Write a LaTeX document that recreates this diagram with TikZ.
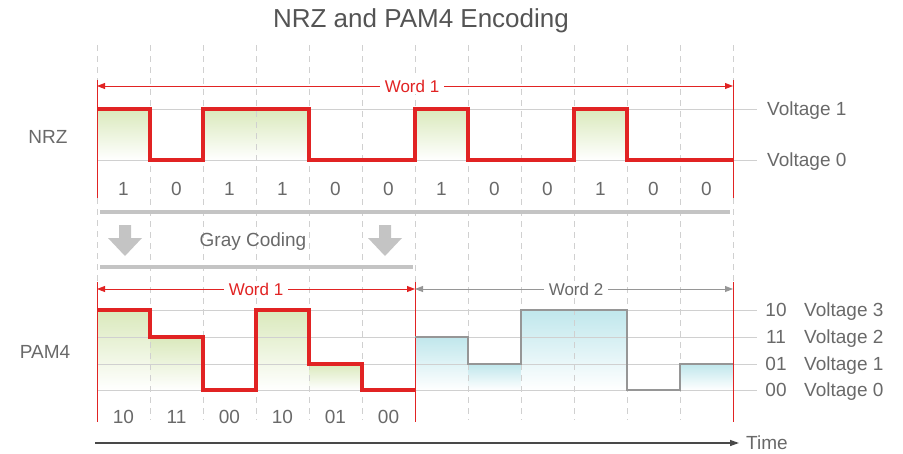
\documentclass[tikz,border=0pt]{standalone}
\usepackage{fontspec}
\setmainfont{Liberation Sans}
\usetikzlibrary{arrows.meta}

\definecolor{sigred}{RGB}{225,35,35}
\definecolor{labgray}{RGB}{105,105,105}
\definecolor{linegray}{RGB}{208,208,208}
\definecolor{bargray}{RGB}{196,196,196}
\definecolor{wavegray}{RGB}{150,150,150}
\definecolor{greenfill}{RGB}{218,233,188}
\definecolor{cyanfill}{RGB}{192,231,236}

\begin{document}
\begin{tikzpicture}[x=1pt,y=-1pt,
  gridline/.style={linegray, dash pattern=on 6pt off 5pt, line width=0.9pt},
  levelline/.style={linegray, line width=0.9pt},
  bound/.style={draw=sigred, line width=1pt},
  redwave/.style={sigred, line width=3.2pt, line join=miter},
  graywave/.style={wavegray, line width=2.8pt, line join=miter},
  greenshade/.style={top color=greenfill, bottom color=white, draw=none},
  cyanshade/.style={top color=cyanfill, bottom color=white, draw=none},
  wordred/.style={sigred, line width=0.9pt, {Triangle[length=8pt,width=6pt]}-{Triangle[length=8pt,width=6pt]}},
  wordgray/.style={wavegray, line width=0.9pt, {Triangle[length=8pt,width=6pt]}-{Triangle[length=8pt,width=6pt]}},
  txt/.style={text=labgray, inner sep=0pt, text height=13.6pt, text depth=0pt, font=\fontsize{19}{22}\selectfont},
  wordlabel/.style={fill=white, inner xsep=5pt, inner ysep=2pt, text height=12.2pt, text depth=0pt, font=\fontsize{17}{20}\selectfont},
  bar/.style={bargray, line width=3.5pt},
  downarrow/.style={fill=bargray, draw=none}
]
\useasboundingbox (0,0) rectangle (903,453);

% Title
\node[txt, text=labgray!80!black, text height=18.6pt, font=\fontsize{26}{30}\selectfont] (title) at (421,18) {NRZ and PAM4 Encoding};

% Shaded areas under the high levels
\fill[greenshade] (97,109) rectangle (150,160);
\fill[greenshade] (203,109) rectangle (309,160);
\fill[greenshade] (415,109) rectangle (468,160);
\fill[greenshade] (574,109) rectangle (627,160);
\fill[greenshade] (97,310) rectangle (150,390);
\fill[greenshade] (150,337) rectangle (203,390);
\fill[greenshade] (256,310) rectangle (309,390);
\fill[greenshade] (309,364) rectangle (362,390);
\fill[cyanshade] (415,337) rectangle (468,390);
\fill[cyanshade] (468,364) rectangle (521,390);
\fill[cyanshade] (521,310) rectangle (627,390);
\fill[cyanshade] (680,364) rectangle (733,390);

% Dashed bit grid
\foreach \i in {1,...,11}
  \draw[gridline] (97+53*\i,45) -- (97+53*\i,420);
\draw[gridline] (97,45) -- (97,80);
\draw[gridline] (733,45) -- (733,80);
\draw[gridline] (97,198) -- (97,282);
\draw[gridline] (733,198) -- (733,282);

% Level lines
\draw[levelline] (97,109) -- (757,109);
\draw[levelline] (97,160) -- (757,160);
\foreach \y in {310,337,364,390}
  \draw[levelline] (97,\y) -- (757,\y);

% Word boundaries
\draw[bound] (97,80) -- (97,198);
\draw[bound] (733,80) -- (733,198);
\draw[bound] (97,282) -- (97,422);
\draw[bound] (415,282) -- (415,422);
\draw[bound] (733,282) -- (733,422);

% Word arrows
\coordinate (nrzwL) at (97,86);
\coordinate (nrzwR) at (733,86);
\coordinate (pamwL) at (97,289);
\coordinate (pamwM) at (415,289);
\coordinate (pamwR) at (733,289);
\draw[wordred] (nrzwL) -- (nrzwR);
\node[wordlabel, text=sigred] (nrzword) at (412,86) {Word 1};
\draw[wordred] (pamwL) -- (pamwM);
\node[wordlabel, text=sigred] (pamword1) at (256,289) {Word 1};
\draw[wordgray] (pamwM) -- (pamwR);
\node[wordlabel, text=labgray] (pamword2) at (576,289) {Word 2};

% NRZ signal
\draw[redwave] (97,109) -- (150,109) -- (150,160) -- (203,160) -- (203,109)
  -- (309,109) -- (309,160) -- (415,160) -- (415,109) -- (468,109)
  -- (468,160) -- (574,160) -- (574,109) -- (627,109) -- (627,160) -- (733,160);

% PAM4 signal
\draw[redwave] (97,310) -- (150,310) -- (150,337) -- (203,337) -- (203,390)
  -- (256,390) -- (256,310) -- (309,310) -- (309,364) -- (362,364)
  -- (362,390) -- (415,390);
\draw[graywave] (415,337) -- (468,337) -- (468,364) -- (521,364) -- (521,310)
  -- (627,310) -- (627,390) -- (680,390) -- (680,364) -- (733,364);

% Bit values
\foreach \b [count=\i from 0] in {1,0,1,1,0,0,1,0,0,1,0,0}
  \node[txt] (nrzbit\i) at (123.5+53*\i,189) {\b};
\foreach \b [count=\i from 0] in {10,11,00,10,01,00}
  \node[txt] (pambit\i) at (123.5+53*\i,417) {\b};

% Gray coding band
\draw[bar] (100,212) -- (730,212);
\draw[bar] (100,267) -- (413,267);
\draw[downarrow] (119,225) -- (131,225) -- (131,238) -- (142,238) -- (125,256)
  -- (108,238) -- (119,238) -- cycle;
\draw[downarrow] (379,225) -- (391,225) -- (391,238) -- (402,238) -- (385,256)
  -- (368,238) -- (379,238) -- cycle;
\node[txt] (graycoding) at (253,240) {Gray Coding};

% Row names
\node[txt] (nrz) at (48,137) {NRZ};
\node[txt] (pam) at (45,352) {PAM4};

% Level names
\node[txt, anchor=west] (v1) at (767,109) {Voltage 1};
\node[txt, anchor=west] (v0) at (767,160) {Voltage 0};
\node[txt] (c3) at (776,310) {10};
\node[txt] (c2) at (776,337) {11};
\node[txt] (c1) at (776,364) {01};
\node[txt] (c0) at (776,390) {00};
\node[txt, anchor=west] (p3) at (804,310) {Voltage 3};
\node[txt, anchor=west] (p2) at (804,337) {Voltage 2};
\node[txt, anchor=west] (p1) at (804,364) {Voltage 1};
\node[txt, anchor=west] (p0) at (804,390) {Voltage 0};

% Time axis
\coordinate (t0) at (95,443);
\coordinate (t1) at (739,443);
\draw[labgray!70!black, line width=1.3pt, -{Triangle[length=9pt,width=6pt]}] (t0) -- (t1);
\node[txt, anchor=west] (time) at (746,443) {Time};
\end{tikzpicture}
\end{document}
